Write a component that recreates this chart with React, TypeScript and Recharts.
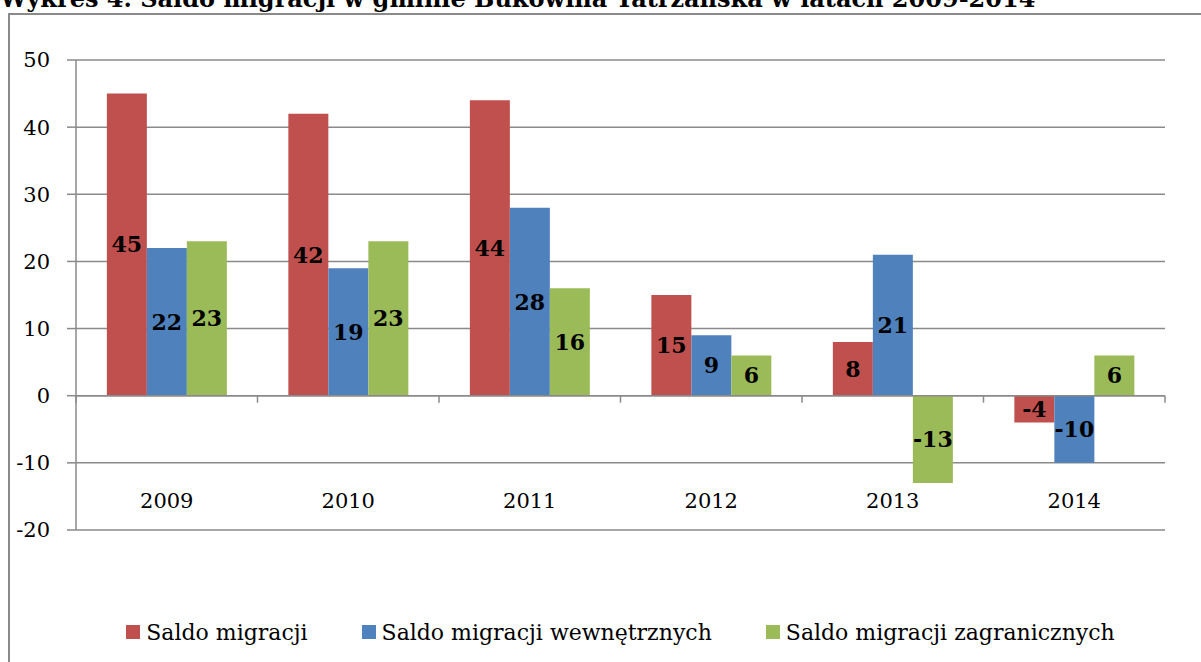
import React from 'react'
import {
    BarChart,
    Bar,
    XAxis,
    YAxis,
    CartesianGrid,
    ReferenceLine,
    LabelList,
} from 'recharts'

// values
const years = ['2009', '2010', '2011', '2012', '2013', '2014']
const saldoMigracji = [45, 42, 44, 15, 8, -4]
const saldoWewnetrzne = [22, 19, 28, 9, 21, -10]
const saldoZagraniczne = [23, 23, 16, 6, -13, 6]
const yTicks = [-20, -10, 0, 10, 20, 30, 40, 50]

const seriesNames = ['Saldo migracji', 'Saldo migracji wewnętrznych', 'Saldo migracji zagranicznych']
const seriesColors = ['#C0504D', '#4F81BD', '#9BBB59']

const data = years.map((year, i) => ({
    year,
    total: saldoMigracji[i],
    wew: saldoWewnetrzne[i],
    zagr: saldoZagraniczne[i],
}))

const FONT = '"DejaVu Serif", serif'
const GRID = '#8a8a8a'

// x axis sits at zero, with tick marks between categories
const ZeroAxis = (props: any) => {
    const { x1, x2, y1 } = props
    const step = (x2 - x1) / years.length
    return (
        <g>
            <line x1={x1} x2={x2} y1={y1} y2={y1} stroke={GRID} strokeWidth={1.5} />
            {Array.from({ length: years.length + 1 }, (_, i) => (
                <line key={i} x1={x1 + i * step} x2={x1 + i * step} y1={y1} y2={y1 + 7} stroke={GRID} strokeWidth={1.5} />
            ))}
        </g>
    )
}

// category labels are drawn low, just above the -20 line
const YearTick = (props: any) => {
    const { x, y, payload } = props
    return (
        <text x={x} y={y - 29} textAnchor="middle" dominantBaseline="central" fontFamily={FONT} fontSize={21} fill="#000">
            {payload.value}
        </text>
    )
}

const labelStyle = { fontFamily: FONT, fontSize: 22, fontWeight: 'bold' as const, fill: '#000' }

export default function App() {
    const keys = ['total', 'wew', 'zagr']
    return (
        <div style={{ position: 'absolute', left: 0, top: 0, width: 1201, height: 662, overflow: 'hidden', background: '#fff' }}>
            <div
                style={{
                    position: 'absolute',
                    left: 0,
                    top: -13,
                    fontFamily: FONT,
                    fontWeight: 'bold',
                    fontSize: 24,
                    lineHeight: '24px',
                    whiteSpace: 'nowrap',
                    color: '#000',
                }}
            >
                Wykres 4. Saldo migracji w gminie Bukowina Tatrzańska w latach 2009-2014
            </div>
            <div style={{ position: 'absolute', left: 8, top: 13, width: 1300, height: 700, border: `2px solid ${GRID}` }} />
            <div style={{ position: 'absolute', left: 0, top: 0 }}>
                <BarChart
                    width={1201}
                    height={662}
                    data={data}
                    margin={{ top: 60, right: 36, left: 16, bottom: 102 }}
                    barCategoryGap="17%"
                    barGap={0}
                >
                    <CartesianGrid vertical={false} stroke={GRID} strokeWidth={1.5} />
                    <XAxis dataKey="year" height={30} axisLine={false} tickLine={false} tickSize={0} tickMargin={0} tick={<YearTick />} interval={0} />
                    <YAxis
                        width={60}
                        domain={[-20, 50]}
                        ticks={yTicks}
                        interval={0}
                        axisLine={{ stroke: GRID, strokeWidth: 1.5 }}
                        tickLine={{ stroke: GRID, strokeWidth: 1.5 }}
                        tickSize={9}
                        tickMargin={17}
                        tick={{ fontFamily: FONT, fontSize: 21, fill: '#000' }}
                    />
                    {keys.map((k, i) => (
                        <Bar key={k} dataKey={k} name={seriesNames[i]} fill={seriesColors[i]} isAnimationActive={false}>
                            <LabelList dataKey={k} position="center" style={labelStyle} />
                        </Bar>
                    ))}
                    <ReferenceLine y={0} shape={ZeroAxis} />
                </BarChart>
            </div>
            <div
                style={{
                    position: 'absolute',
                    left: 76,
                    width: 1089,
                    top: 617,
                    height: 30,
                    display: 'flex',
                    justifyContent: 'center',
                    alignItems: 'center',
                    gap: 54,
                    fontFamily: FONT,
                    fontSize: 22,
                    color: '#000',
                }}
            >
                {seriesNames.map((name, i) => (
                    <div key={name} style={{ display: 'flex', alignItems: 'center', whiteSpace: 'nowrap' }}>
                        <span style={{ width: 14, height: 14, background: seriesColors[i], marginRight: 6, display: 'inline-block' }} />
                        <span>{name}</span>
                    </div>
                ))}
            </div>
        </div>
    )
}
